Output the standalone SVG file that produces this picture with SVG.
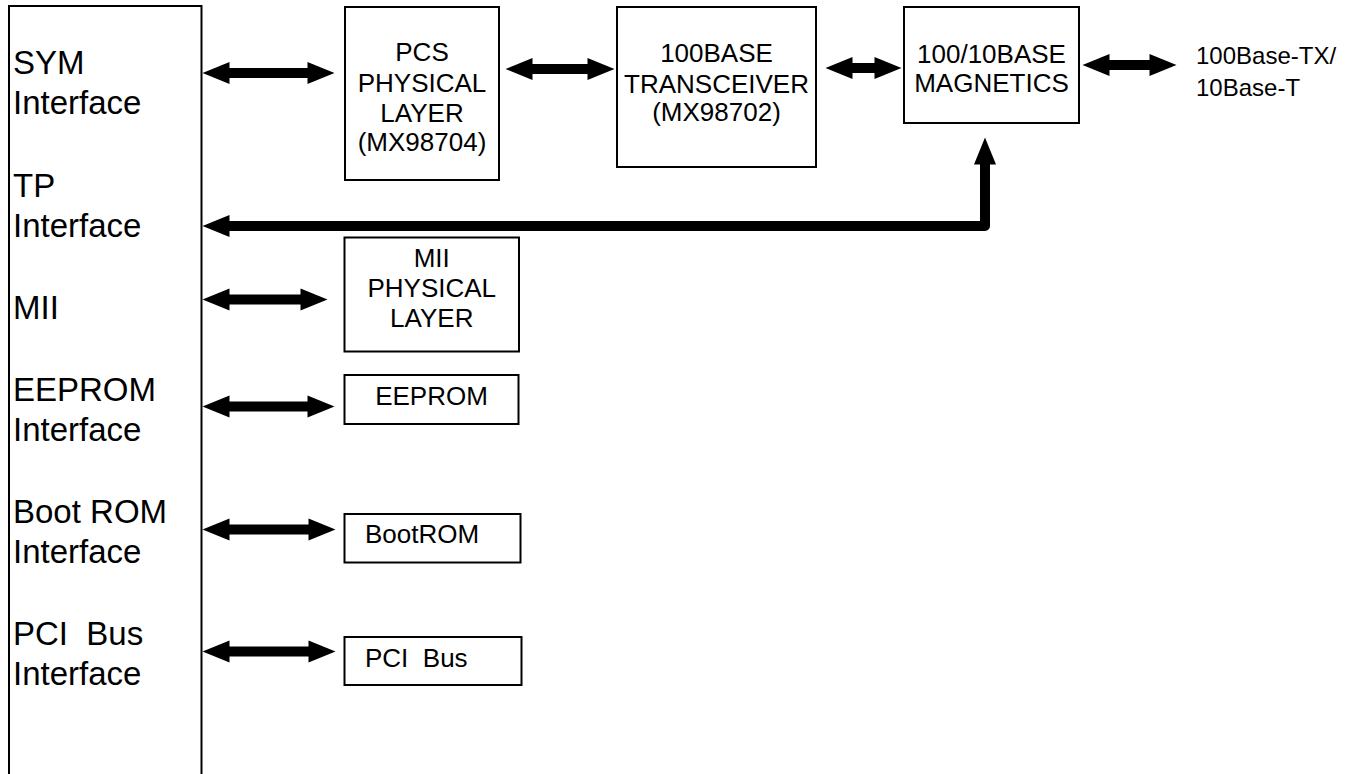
<svg xmlns="http://www.w3.org/2000/svg" width="1366" height="774" viewBox="0 0 1366 774">
  <style>
    .box { fill: #ffffff; stroke: #000000; stroke-width: 2; }
    .lbl { font-family: "Liberation Sans", Arial, sans-serif; font-size: 33px; fill: #000000; }
    .btx { font-family: "Liberation Sans", Arial, sans-serif; font-size: 26px; fill: #000000; text-anchor: middle; }
    .ltx { font-family: "Liberation Sans", Arial, sans-serif; font-size: 26px; fill: #000000; }
    .ext { font-family: "Liberation Sans", Arial, sans-serif; font-size: 24px; fill: #000000; }
    .conn { fill: none; stroke: #000000; stroke-width: 10; stroke-linejoin: round; marker-start: url(#head); marker-end: url(#head); }
  </style>
  <defs>
    <marker id="head" markerUnits="userSpaceOnUse" markerWidth="27" markerHeight="22" viewBox="0 -11 27 22" refX="0.5" refY="0" orient="auto-start-reverse" overflow="visible">
      <path d="M0,-11 L27,0 L0,11 Z" fill="#000000"/>
    </marker>
  </defs>
  <rect width="1366" height="774" fill="#ffffff"/>

  <g id="controller">
    <rect class="box" x="9" y="6" width="192.5" height="800"/>
    <text class="lbl" x="13" y="74">SYM</text>
    <text class="lbl" x="13" y="114">Interface</text>
    <text class="lbl" x="13" y="197">TP</text>
    <text class="lbl" x="13" y="237">Interface</text>
    <text class="lbl" x="13" y="319">MII</text>
    <text class="lbl" x="13" y="401">EEPROM</text>
    <text class="lbl" x="13" y="441">Interface</text>
    <text class="lbl" x="13" y="523">Boot ROM</text>
    <text class="lbl" x="13" y="563">Interface</text>
    <text class="lbl" x="13" y="645" xml:space="preserve">PCI  Bus</text>
    <text class="lbl" x="13" y="685">Interface</text>
  </g>

  <g id="pcs">
    <rect class="box" x="345" y="7" width="154" height="173"/>
    <text class="btx" x="422" y="61">PCS</text>
    <text class="btx" x="422" y="92">PHYSICAL</text>
    <text class="btx" x="422" y="121.5">LAYER</text>
    <text class="btx" x="422" y="150.5">(MX98704)</text>
  </g>

  <g id="transceiver">
    <rect class="box" x="617" y="7" width="199" height="160"/>
    <text class="btx" x="716.5" y="62">100BASE</text>
    <text class="btx" x="716.5" y="92.5">TRANSCEIVER</text>
    <text class="btx" x="716.5" y="121">(MX98702)</text>
  </g>

  <g id="magnetics">
    <rect class="box" x="904" y="7" width="175" height="116"/>
    <text class="btx" x="991.5" y="63">100/10BASE</text>
    <text class="btx" x="991.5" y="92">MAGNETICS</text>
  </g>

  <g id="media">
    <text class="ext" x="1196" y="64">100Base-TX/</text>
    <text class="ext" x="1196" y="96">10Base-T</text>
  </g>

  <g id="mii-phy">
    <rect class="box" x="344.5" y="237.5" width="174.5" height="114"/>
    <text class="btx" x="431.75" y="267">MII</text>
    <text class="btx" x="431.75" y="297">PHYSICAL</text>
    <text class="btx" x="431.75" y="327">LAYER</text>
  </g>

  <g id="eeprom">
    <rect class="box" x="344.5" y="375" width="174" height="49"/>
    <text class="btx" x="431.5" y="405">EEPROM</text>
  </g>

  <g id="bootrom">
    <rect class="box" x="344.5" y="514" width="176" height="48.5"/>
    <text class="ltx" x="365" y="543">BootROM</text>
  </g>

  <g id="pcibus">
    <rect class="box" x="344.5" y="637" width="177" height="48"/>
    <text class="ltx" x="365" y="667" xml:space="preserve">PCI  Bus</text>
  </g>

  <g id="connectors">
    <path class="conn" d="M229,73 L308,73"/>
    <path class="conn" d="M532,69 L588,69"/>
    <path class="conn" d="M852,68 L875,68"/>
    <path class="conn" d="M1109,65 L1150,65"/>
    <path class="conn" d="M985,164 L985,226 L229,226"/>
    <path class="conn" d="M229,299.5 L301,299.5"/>
    <path class="conn" d="M229,406.5 L308,406.5"/>
    <path class="conn" d="M229,529.5 L309,529.5"/>
    <path class="conn" d="M229,651.5 L309,651.5"/>
  </g>
</svg>
